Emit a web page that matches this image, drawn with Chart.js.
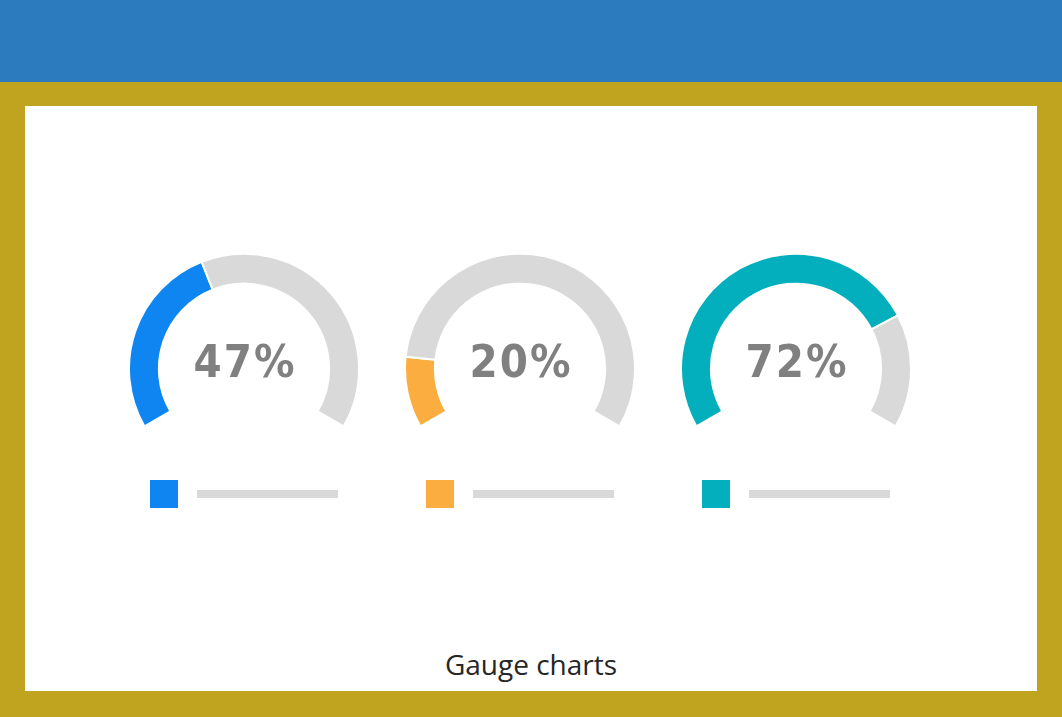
<!DOCTYPE html>
<html>
<head>
<meta charset="utf-8">
<script src="https://cdn.jsdelivr.net/npm/chart.js@4.4.1/dist/chart.umd.min.js"></script>
<style>
  html, body { margin: 0; padding: 0; }
  body { width: 1062px; height: 717px; position: relative; overflow: hidden; background: #C0A31E; font-family: 'Open Sans', sans-serif; }
  .header { position: absolute; left: 0; top: 0; width: 1062px; height: 82px; background: #2B7BBE; }
  .panel { position: absolute; left: 25px; top: 106px; width: 1012px; height: 585px; background: #fff; }
  .gauge { position: absolute; width: 232px; height: 176px; }
  .legend-box { position: absolute; width: 28px; height: 28px; }
  .legend-bar { position: absolute; width: 141px; height: 8px; background: #D9D9D9; }
  .caption { position: absolute; left: 25px; width: 1012px; top: 645px; text-align: center; font-size: 28px; color: #262626; }
</style>
</head>
<body>
<div class="header"></div>
<div class="panel"></div>
<div id="gauges"></div>
<div class="caption">Gauge charts</div>
<script>
/* ── data ── */
const gaugeLabels = ['47%', '20%', '72%'];
const gaugeFill = [41, 15, 76];           // filled share of the arc, as drawn
const gaugeColors = ['#0E85F0', '#FBAE3F', '#03AFBD'];
const trackColor = '#D9D9D9';

/* ── layout ── */
const gaugeCenterX = [244, 520, 796];

/* ── centre text plugin ── */
const centerText = {
  id: 'centerText',
  afterDraw(chart, args, opts) {
    const arc = chart.getDatasetMeta(0).data[0];
    if (!arc) return;
    const ctx = chart.ctx;
    ctx.save();
    ctx.font = 'bold 45px "DejaVu Sans Condensed", "DejaVu Sans", sans-serif';
    if ('letterSpacing' in ctx) ctx.letterSpacing = '2px';
    ctx.fillStyle = '#808080';
    ctx.textAlign = 'center';
    ctx.textBaseline = 'middle';
    ctx.fillText(opts.text, arc.x + 1, arc.y - 3);
    ctx.restore();
  },
};

function initGauge(i) {
  const host = document.getElementById('gauges');
  const wrap = document.createElement('div');
  wrap.className = 'gauge';
  wrap.style.left = (gaugeCenterX[i] - 116) + 'px';
  wrap.style.top = '252px';
  const canvas = document.createElement('canvas');
  wrap.appendChild(canvas);
  host.appendChild(wrap);

  const box = document.createElement('div');
  box.className = 'legend-box';
  box.style.left = (gaugeCenterX[i] - 94) + 'px';
  box.style.top = '480px';
  box.style.background = gaugeColors[i];
  host.appendChild(box);

  const bar = document.createElement('div');
  bar.className = 'legend-bar';
  bar.style.left = (gaugeCenterX[i] - 47) + 'px';
  bar.style.top = '490px';
  host.appendChild(bar);

  new Chart(canvas.getContext('2d'), {
    type: 'doughnut',
    data: {
      labels: [gaugeLabels[i], ''],
      datasets: [{
        data: [gaugeFill[i], 100 - gaugeFill[i]],
        backgroundColor: [gaugeColors[i], trackColor],
        borderColor: '#fff',
        borderWidth: 2,
      }],
    },
    options: {
      responsive: true,
      maintainAspectRatio: false,
      animation: false,
      rotation: -120,
      circumference: 240,
      cutout: '74%',
      layout: { padding: 0 },
      plugins: {
        legend: { display: false },
        tooltip: { enabled: false },
        centerText: { text: gaugeLabels[i] },
      },
    },
    plugins: [centerText],
  });
}

gaugeLabels.forEach((_, i) => initGauge(i));
</script>
</body>
</html>
